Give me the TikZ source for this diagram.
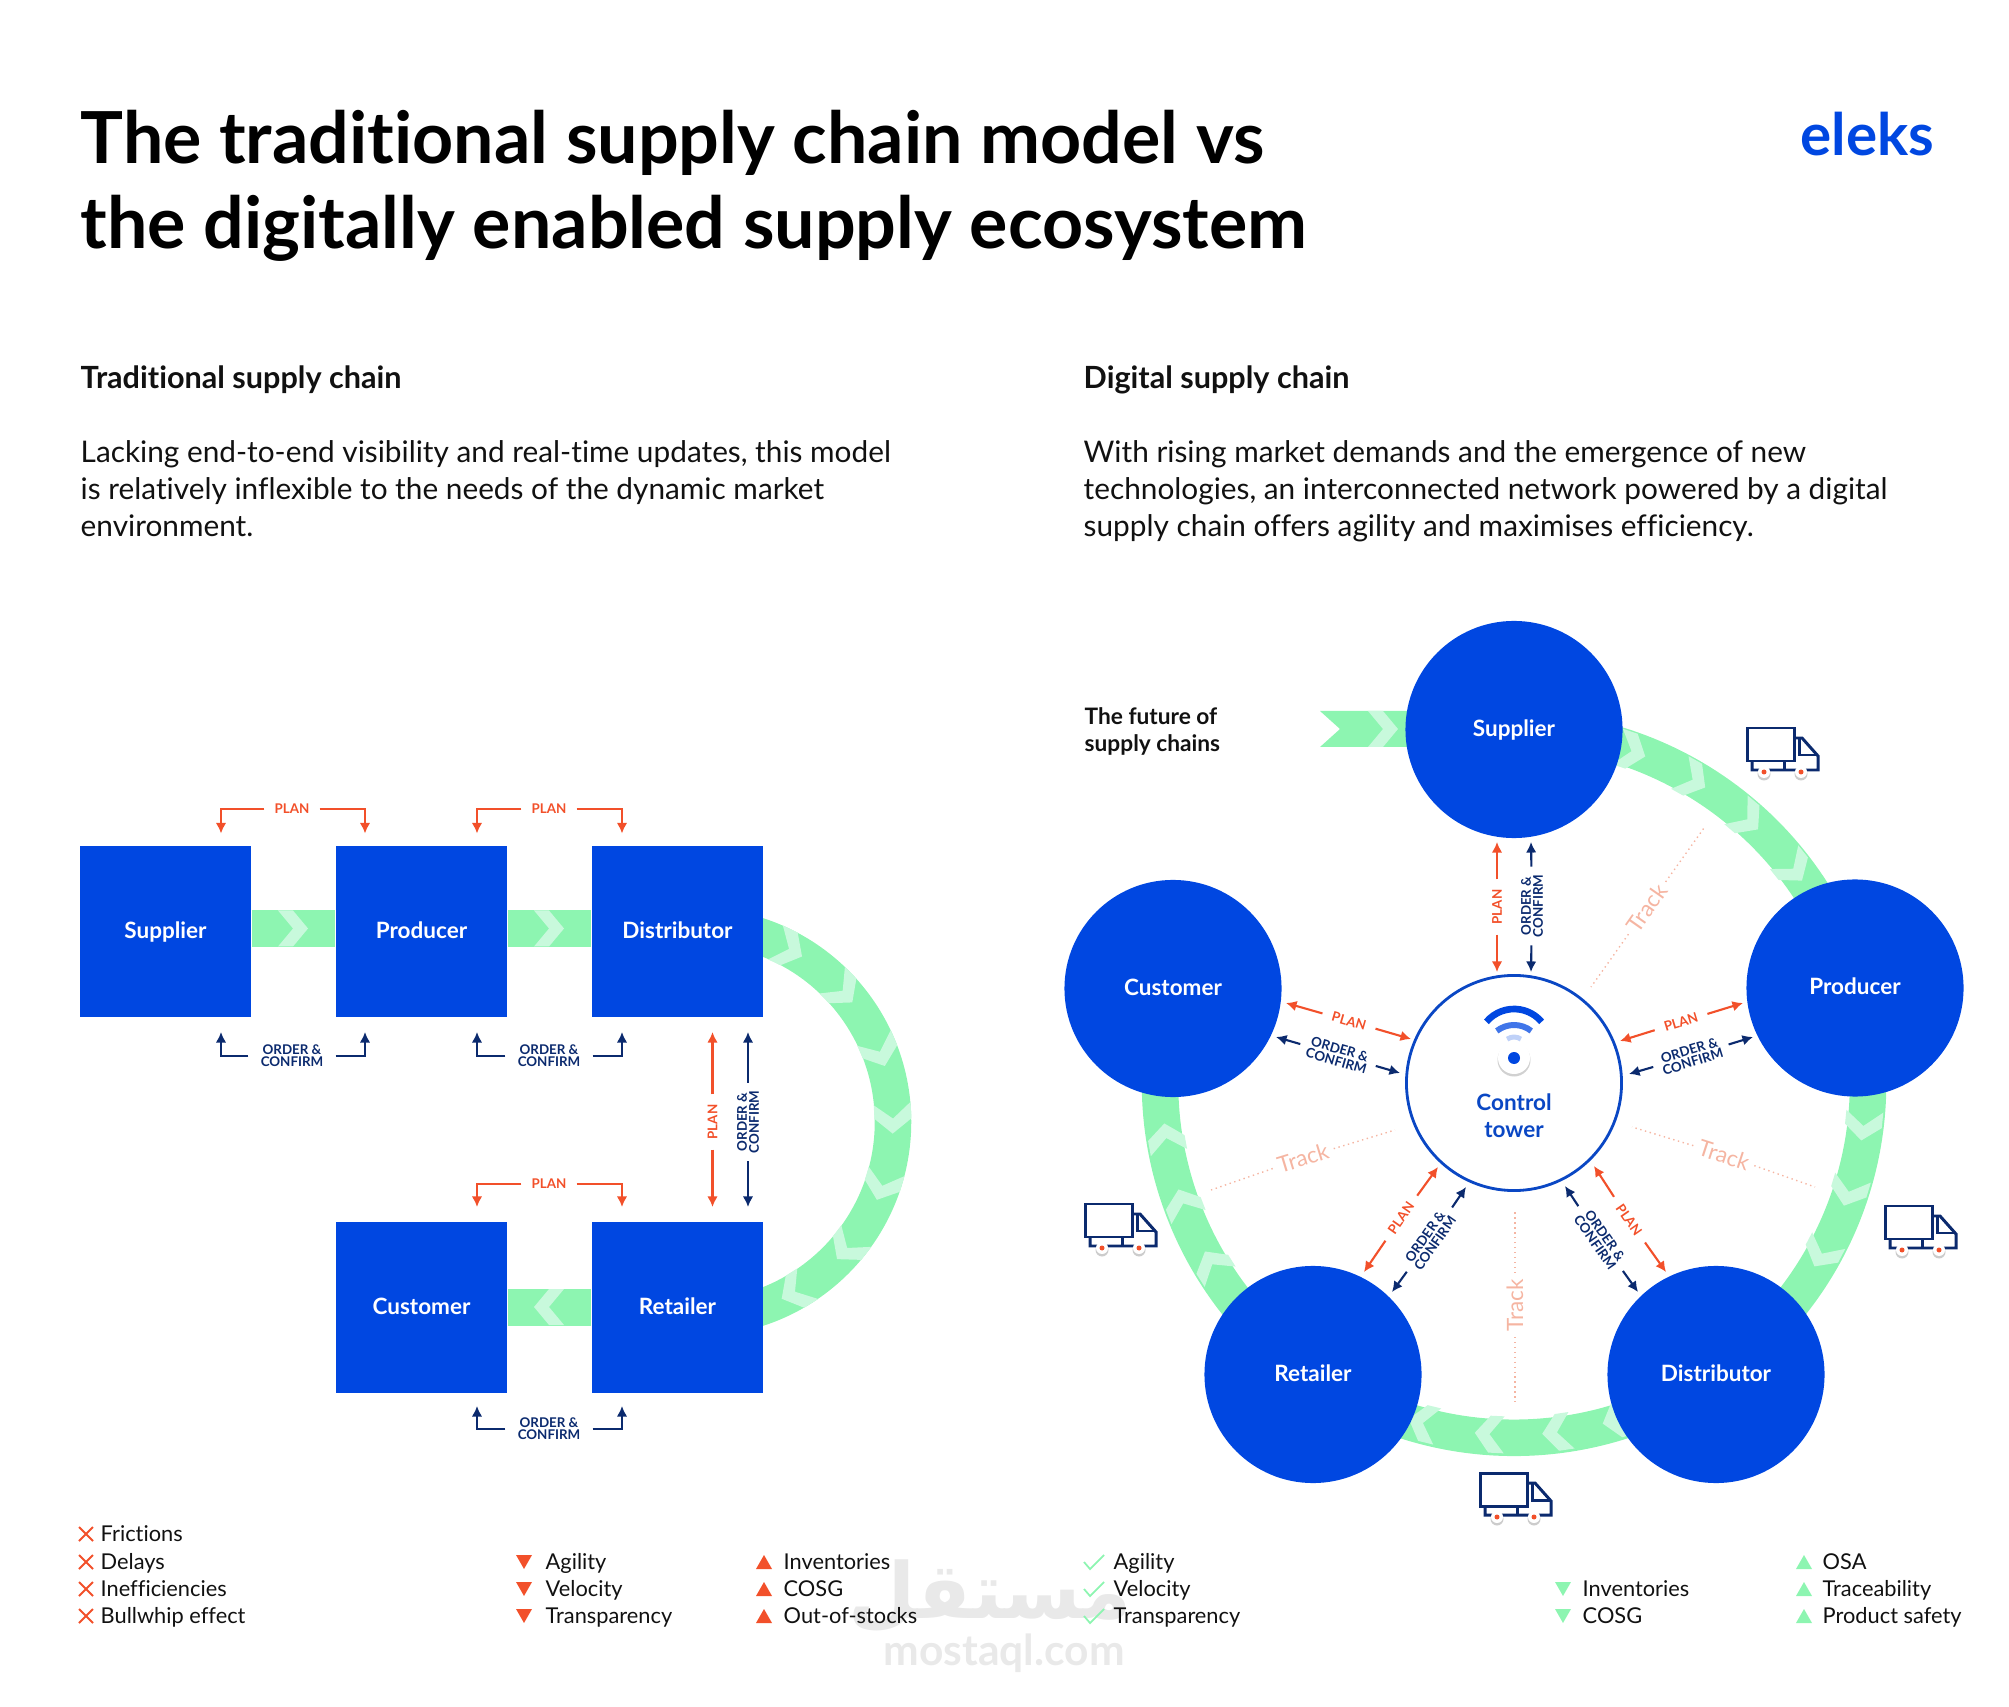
\documentclass[tikz,border=0pt]{standalone}
\usepackage{fontspec}
\setmainfont{Lato}[Ligatures=NoCommon]
\newfontfamily\arabicfont[Script=Arabic]{DejaVu Sans}
\TeXXeTstate=1
\usetikzlibrary{arrows.meta,calc,backgrounds}
\definecolor{eleksblue}{HTML}{0047E1}
\definecolor{towerblue}{HTML}{0A47C4}
\definecolor{bandgreen}{HTML}{8DF5B1}
\definecolor{chevgreen}{HTML}{C8F9DC}
\definecolor{planred}{HTML}{F2502A}
\definecolor{ordernavy}{HTML}{0B2A6E}
\definecolor{tracksalmon}{HTML}{F5B5A2}
\definecolor{inkblack}{HTML}{111111}
\definecolor{markgray}{HTML}{E9E9E9}
\newcommand{\chevarc}[4]{\fill [chevgreen] ($(#1)+(#3-#4:#2+18.5)$) -- ($(#1)+(#3:#2)$) -- ($(#1)+(#3-#4:#2-18.5)$) -- ($(#1)+(#3:#2-18.5)$) -- ($(#1)+(#3+#4:#2)$) -- ($(#1)+(#3:#2+18.5)$) -- cycle;}
\tikzset{
    boxnode/.style={fill=eleksblue,minimum size=1.71cm,inner sep=0pt,text=white,text height=5.35pt,text depth=1.4pt,font=\fontsize{6.4pt}{8pt}\selectfont\bfseries},
    ballnode/.style={circle,fill=eleksblue,minimum size=2.17cm,inner sep=0pt,text=white,text height=5.35pt,text depth=1.4pt,font=\fontsize{6.4pt}{8pt}\selectfont\bfseries},
    towernode/.style={circle,draw=towerblue,line width=0.8pt,fill=white,minimum size=2.15cm,inner sep=0pt},
    band/.style={bandgreen,line width=0.365cm},
    planlabel/.style={text=planred,font=\fontsize{3.8pt}{3.4pt}\selectfont\bfseries,inner xsep=2.7pt,inner ysep=0pt},
    orderlabel/.style={text=ordernavy,align=center,font=\fontsize{3.8pt}{3.45pt}\selectfont\bfseries,inner xsep=3.3pt,inner ysep=0pt},
    planline/.style={planred,line width=0.6pt,-{Latex[length=3pt,width=3pt]}},
    orderline/.style={ordernavy,line width=0.6pt,-{Latex[length=3pt,width=3pt]}},
    tracklabel/.style={text=tracksalmon,font=\fontsize{6.4pt}{8pt}\selectfont,inner xsep=1.5pt,inner ysep=0pt},
    trackline/.style={tracksalmon,line width=0.4pt,densely dotted},
    headlabel/.style={anchor=base west,inner sep=0pt,text=inkblack,font=\fontsize{8.7pt}{10pt}\selectfont\bfseries},
    bodylabel/.style={anchor=west,align=left,inner sep=0pt,text=inkblack,font=\fontsize{8.47pt}{10.53pt}\selectfont},
    listlabel/.style={anchor=west,inner sep=0pt,text=inkblack,text height=5.75pt,text depth=1.4pt,font=\fontsize{6.2pt}{8pt}\selectfont},
    truck/.pic={
        \draw [ordernavy,line width=0.85pt] (0,0) rectangle (47,33);
        \draw [ordernavy,line width=0.85pt] (47,10) -- (55,10) -- (71,28) -- (71,42) -- (5,42) -- (5,33);
        \draw [ordernavy,line width=0.85pt] (52,10) -- (52,27) -- (71,27);
        \draw [ordernavy,line width=0.85pt] (37,33) -- (37,42);
        \fill [black!20] (17,46) circle (6.5);
        \fill [black!20] (54,46) circle (6.5);
        \fill [white] (17,44) circle (6);
        \fill [white] (54,44) circle (6);
        \fill [planred] (17,44) circle (2.5);
        \fill [planred] (54,44) circle (2.5);
    }
}
\begin{document}
\begin{tikzpicture}[x=0.01cm,y=-0.01cm]
    \useasboundingbox (0,0) rectangle (2009,1707);
    \node [anchor=west,align=left,inner sep=0pt,text=black,font=\fontsize{20.4pt}{24pt}\selectfont\bfseries] (title) at (80,186) {The traditional supply chain model vs\\the digitally enabled supply ecosystem};
    \node [anchor=east,inner sep=0pt,text=eleksblue,font=\fontsize{16.6pt}{18pt}\selectfont\bfseries] (logo) at (1935,134) {eleks};
    \node [headlabel] (tradhead) at (80,388.5) {Traditional supply chain};
    \node [headlabel] (dighead) at (1083,388.5) {Digital supply chain};
    \node [bodylabel] (tradbody) at (80,488.5) {Lacking end-to-end visibility and real-time updates, this model\\is relatively inflexible to the needs of the dynamic market\\environment.};
    \node [bodylabel] (digbody) at (1083,491) {With rising market demands and the emergence of new\\technologies, an interconnected network powered by a digital\\supply chain offers agility and maximises efficiency.};
    \node [anchor=west,align=left,inner sep=0pt,text=inkblack,font=\fontsize{6.45pt}{7.85pt}\selectfont\bfseries] (future) at (1084,731.5) {The future of\\supply chains};

    \node [boxnode] (tsupplier) at (165.5,931.5) {Supplier};
    \node [boxnode] (tproducer) at (421.5,931.5) {Producer};
    \node [boxnode] (tdistributor) at (677.5,931.5) {Distributor};
    \node [boxnode] (tcustomer) at (421.5,1307.5) {Customer};
    \node [boxnode] (tretailer) at (677.5,1307.5) {Retailer};
    \coordinate (tarc) at (697,1122);
    \coordinate (tarctop) at (697,926);

    \coordinate (ring) at (1514,1083);
    \node [ballnode] (supplier) at (1514,729.5) {Supplier};
    \node [ballnode] (producer) at (1855,988) {Producer};
    \node [ballnode] (distributor) at (1716,1374.5) {Distributor};
    \node [ballnode] (retailer) at (1313,1374.5) {Retailer};
    \node [ballnode] (customer) at (1173,988.5) {Customer};
    \node [towernode] (tower) at (ring) {};
    \node [align=center,inner sep=0pt,text=towerblue,font=\fontsize{6.4pt}{7.7pt}\selectfont\bfseries] (towertext) at (1514,1115.5) {Control\\tower};
    \coordinate (feed) at (1320,729);

    \begin{scope}[on background layer]
        \node [text=markgray,font=\fontsize{22pt}{26pt}\selectfont\arabicfont\bfseries] (markar) at (990,1596) {\beginR مستقل\endR};
        \node [text=markgray,font=\fontsize{12.1pt}{13pt}\selectfont\bfseries] (markla) at (1004,1653) {mostaql.com};
        \draw [band] ([yshift=0.03cm]tsupplier.east) -- ([yshift=0.03cm]tproducer.west);
        \draw [band] ([yshift=0.03cm]tproducer.east) -- ([yshift=0.03cm]tdistributor.west);
        \draw [band] (tretailer.west) -- (tcustomer.east);
        \draw [band] (tarctop) arc [start angle=-90,end angle=90,radius=196];
        \foreach \a in {-62,-42,-21,-1,19,40,60} {\chevarc{tarc}{196}{\a}{4.4}}
        \foreach \x in {293,549} {
            \fill [chevgreen,shift={(\x,928.5)}] (-15,-18) -- (0,0) -- (-15,18) -- (0,18) -- (15,0) -- (0,-18) -- cycle;
        }
        \fill [chevgreen,shift={(549,1307)}] (15,-18) -- (0,0) -- (15,18) -- (0,18) -- (-15,0) -- (0,-18) -- cycle;
        \fill [bandgreen] (feed|-0,711) -- (supplier.center|-0,711) -- (supplier.center|-0,747) -- (feed|-0,747) -- (1340,729) -- cycle;
        \fill [chevgreen,shift={(1383,729)}] (-15,-18) -- (0,0) -- (-15,18) -- (0,18) -- (15,0) -- (0,-18) -- cycle;
        \draw [band] (supplier.center) arc [start angle=-90,end angle=-15.6,radius=354];
        \draw [band] (producer.center) arc [start angle=-15.6,end angle=55.2,radius=354];
        \draw [band] (distributor.center) arc [start angle=55.2,end angle=124.6,radius=354];
        \draw [band] (retailer.center) arc [start angle=124.6,end angle=195.6,radius=354];
        \foreach \a in {-70.5,-59.5,-48.5,-37.5,7,18,29,73,83,94,105,149,160,171} {\chevarc{ring}{352}{\a}{2.4}}
    \end{scope}

    \foreach \n/\lx/\ax/\bx/\ly/\ty in {1/292/221/365/809/833.5,2/549/477/622/809/833.5,3/549/477/622/1184/1207} {
        \node [planlabel] (plan\n) at (\lx,\ly) {PLAN};
        \coordinate (plan\n a) at (\ax,\ty);
        \coordinate (plan\n b) at (\bx,\ty);
        \draw [planline] (plan\n.west) -| (plan\n a);
        \draw [planline] (plan\n.east) -| (plan\n b);
    }
    \foreach \n/\lx/\ax/\bx/\ly/\ty in {1/292/221/365/1056/1032,2/549/477/622/1056/1032,3/549/477/622/1429/1406} {
        \node [orderlabel] (order\n) at (\lx,\ly) {ORDER \&\\CONFIRM};
        \coordinate (order\n a) at (\ax,\ty);
        \coordinate (order\n b) at (\bx,\ty);
        \draw [orderline] (order\n.west) -| (order\n a);
        \draw [orderline] (order\n.east) -| (order\n b);
    }
    \foreach \n/\ax/\ay/\bx/\by/\lx/\ly/\rot in {
        v/712.5/1032/712.5/1207/712.5/1122/90,
        s/1497/842/1497/972/1497/907/90,
        c/1286/1003/1411/1039/1349/1021/-16,
        p/1743/1003/1620/1041/1681/1022/17,
        r/1364/1272/1438/1167/1401/1218/55,
        d/1666/1272/1594/1166/1629/1220/-55} {
        \node [planlabel,rotate=\rot] (plan\n) at (\lx,\ly) {PLAN};
        \coordinate (plan\n a) at (\ax,\ay);
        \coordinate (plan\n b) at (\bx,\by);
        \draw [planline] (plan\n) -- (plan\n a);
        \draw [planline] (plan\n) -- (plan\n b);
    }
    \foreach \n/\ax/\ay/\bx/\by/\lx/\ly/\rot in {
        v/748/1032/748/1207/748/1122/90,
        s/1531/842/1531/972/1532/906/90,
        c/1276/1037/1400/1073/1338/1055/-16,
        p/1753/1037/1629/1074/1691/1056/17,
        r/1392/1292/1466/1187/1430/1240/55,
        d/1638/1292/1565/1186/1600/1239/-55} {
        \node [orderlabel,inner xsep=2.1pt,rotate=\rot] (order\n) at (\lx,\ly) {ORDER \&\\CONFIRM};
        \coordinate (order\n a) at (\ax,\ay);
        \coordinate (order\n b) at (\bx,\by);
        \draw [orderline] (order\n) -- (order\n a);
        \draw [orderline] (order\n) -- (order\n b);
    }
    \foreach \n/\ax/\ay/\bx/\by/\lx/\ly/\rot in {
        a/1704/828/1591/987/1647/908/55,
        b/1211/1190/1395/1130/1303/1158/17,
        c/1632/1127/1815/1187/1724/1155/-18,
        d/1515/1209/1515/1403/1515/1305/90} {
        \node [tracklabel,rotate=\rot] (track\n) at (\lx,\ly) {Track};
        \coordinate (track\n a) at (\ax,\ay);
        \coordinate (track\n b) at (\bx,\by);
        \draw [trackline] (track\n) -- (track\n a);
        \draw [trackline] (track\n) -- (track\n b);
    }

    \draw [eleksblue,line width=1.9pt] (1514,1045) ++(-140:36) arc [start angle=-140,end angle=-40,radius=36];
    \draw [eleksblue!75,line width=1.7pt] (1514,1053) ++(-128:28) arc [start angle=-128,end angle=-52,radius=28];
    \draw [eleksblue!25,line width=1.4pt] (1514,1049) ++(-125:12) arc [start angle=-125,end angle=-55,radius=12];
    \fill [black!18] (1514,1060) circle (16.5);
    \fill [white] (1514,1058) circle (16);
    \fill [eleksblue] (1514,1058) circle (6);

    \path (1747,728) pic {truck};
    \path (1085,1204) pic {truck};
    \path (1885,1206) pic {truck};
    \path (1480,1473) pic {truck};

    \foreach \n/\y/\t in {1/1534/Frictions,2/1562/Delays,3/1589/Inefficiencies,4/1616/Bullwhip effect} {
        \node [listlabel] (fric\n) at (100,\y) {\t};
        \draw [planred,line width=0.55pt,shift={(86,\y)}] (-7,-7) -- (7,7) (-7,7) -- (7,-7);
    }
    \foreach \n/\y/\t in {1/1562/Agility,2/1589/Velocity,3/1616/Transparency} {
        \node [listlabel] (down\n) at (545,\y) {\t};
        \fill [planred,shift={(524,\y)}] (-8,-7) -- (8,-7) -- (0,7) -- cycle;
    }
    \foreach \n/\y/\t in {1/1562/Inventories,2/1589/COSG,3/1616/Out-of-stocks} {
        \node [listlabel] (up\n) at (783,\y) {\t};
        \fill [planred,shift={(764,\y)}] (-8,7) -- (8,7) -- (0,-7) -- cycle;
    }
    \foreach \n/\y/\t in {1/1562/Agility,2/1589/Velocity,3/1616/Transparency} {
        \node [listlabel] (good\n) at (1113,\y) {\t};
        \draw [bandgreen,line width=0.5pt,shift={(1094,\y)}] (-10,0) -- (-4,7) -- (10,-7);
    }
    \foreach \n/\y/\t in {1/1589/Inventories,2/1616/COSG} {
        \node [listlabel] (less\n) at (1582,\y) {\t};
        \fill [bandgreen,shift={(1563,\y)}] (-8,-7) -- (8,-7) -- (0,7) -- cycle;
    }
    \foreach \n/\y/\t in {1/1562/OSA,2/1589/Traceability,3/1616/Product safety} {
        \node [listlabel] (more\n) at (1822,\y) {\t};
        \fill [bandgreen,shift={(1804,\y)}] (-8,7) -- (8,7) -- (0,-7) -- cycle;
    }
\end{tikzpicture}
\end{document}
